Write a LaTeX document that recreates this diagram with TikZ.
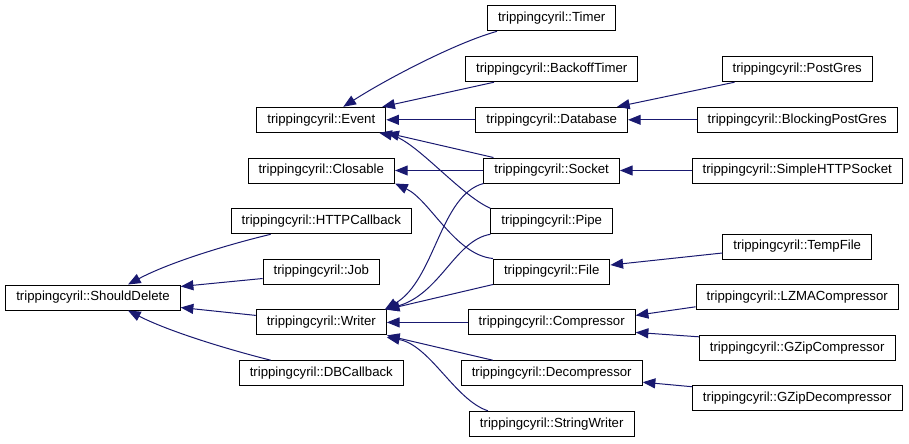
\documentclass[tikz,border=0pt]{standalone}
\usepackage{fontspec}
\setmainfont{Liberation Sans}
\usetikzlibrary{arrows.meta,calc}
\definecolor{dxEdge}{HTML}{191970}
\tikzset{
  clsbox/.style  = {draw=black, line width=0.75pt, fill=white, inner xsep=7.9pt,
                    inner ysep=0pt, minimum height=18.75pt,
                    font=\fontsize{9.9}{12}\selectfont},
  inherit/.style = {-{Triangle[length=9.5pt,width=7.5pt]}, line width=0.75pt,
                    draw=dxEdge},
}
\begin{document}
\begin{tikzpicture}[x=0.75pt, y=-0.75pt]
  \useasboundingbox (0,0) rectangle (909,443);

  % base and second column
  \node[clsbox] (shoulddel) at (93,297.5)   {trippingcyril::ShouldDelete};
  \node[clsbox] (event)     at (321.3,119.8) {trippingcyril::Event};
  \node[clsbox] (closable)  at (321.3,170.5) {trippingcyril::Closable};
  \node[clsbox] (httpcb)    at (321.3,221.3) {trippingcyril::HTTPCallback};
  \node[clsbox] (job)       at (321.3,271.5) {trippingcyril::Job};
  \node[clsbox] (writer)    at (321.3,322.4) {trippingcyril::Writer};
  \node[clsbox] (dbcb)      at (321.3,373.2) {trippingcyril::DBCallback};

  % third column
  \node[clsbox] (timer)     at (551.7,18.3)  {trippingcyril::Timer};
  \node[clsbox] (backoff)   at (551.7,69.2)  {trippingcyril::BackoffTimer};
  \node[clsbox] (database)  at (551.7,119.8) {trippingcyril::Database};
  \node[clsbox] (socket)    at (551.7,170.5) {trippingcyril::Socket};
  \node[clsbox] (pipe)      at (551.7,221.3) {trippingcyril::Pipe};
  \node[clsbox] (file)      at (551.7,271.5) {trippingcyril::File};
  \node[clsbox] (compr)     at (551.7,322.4) {trippingcyril::Compressor};
  \node[clsbox] (decompr)   at (551.7,373.2) {trippingcyril::Decompressor};
  \node[clsbox] (strwriter) at (551.7,423.8) {trippingcyril::StringWriter};

  % fourth column
  \node[clsbox] (postgres)  at (797.2,69.2)  {trippingcyril::PostGres};
  \node[clsbox] (blockpg)   at (797.2,119.8) {trippingcyril::BlockingPostGres};
  \node[clsbox] (simplehttp) at (797.2,170.5) {trippingcyril::SimpleHTTPSocket};
  \node[clsbox] (tempfile)  at (797.2,246.5) {trippingcyril::TempFile};
  \node[clsbox] (lzma)      at (797.2,296.8) {trippingcyril::LZMACompressor};
  \node[clsbox] (gzipc)     at (797.2,347.8) {trippingcyril::GZipCompressor};
  \node[clsbox] (gzipd)     at (797.2,398.3) {trippingcyril::GZipDecompressor};

  % ShouldDelete
  \draw[inherit] ($(httpcb.south west)+(40,0)$)
        .. controls (230,244) and (170,262) .. ($(shoulddel.north)+(35,0)$);
  \draw[inherit] ($(job.west)+(0,7)$) -- ($(shoulddel.east)+(0,-11)$);
  \draw[inherit] ($(writer.west)+(0,-7)$) -- ($(shoulddel.east)+(0,10)$);
  \draw[inherit] ($(dbcb.north west)+(32,0)$)
        .. controls (230,350) and (170,332) .. ($(shoulddel.south)+(35,0)$);

  % Event
  \draw[inherit] ($(timer.south west)+(10,0)$)
        .. controls (455,43) and (385,80) .. ($(event.north)+(22,0)$);
  \draw[inherit] ($(backoff.south west)+(29,0)$) -- ($(event.north east)+(-4,0)$);
  \draw[inherit] (database.west) -- (event.east);
  \draw[inherit] ($(socket.north west)+(10,0)$) -- (event.south east);
  \draw[inherit] (pipe.north west)
        .. controls (460,195) and (415,140) .. ($(event.south east)+(-7,0)$);

  % Closable
  \draw[inherit] (socket.west) -- (closable.east);
  \draw[inherit] (file.north west)
        .. controls (455,255) and (430,200) .. (closable.south east);

  % Writer
  \draw[inherit] (socket.south west)
        .. controls (440,195) and (435,280) .. ($(writer.north east)+(-2,0)$);
  \draw[inherit] (pipe.south west)
        .. controls (455,240) and (440,295) .. ($(writer.north east)+(-2,0)$);
  \draw[inherit] (file.south west) -- (writer.north east);
  \draw[inherit] (compr.west) -- (writer.east);
  \draw[inherit] ($(decompr.north west)+(32,0)$) -- (writer.south east);
  \draw[inherit] ($(strwriter.north west)+(19,0)$)
        .. controls (455,400) and (430,345) .. ($(writer.south east)+(0,2)$);

  % right column
  \draw[inherit] ($(postgres.south west)+(13,0)$) -- ($(database.north east)+(-11,0)$);
  \draw[inherit] (blockpg.west) -- (database.east);
  \draw[inherit] (simplehttp.west) -- (socket.east);
  \draw[inherit] ($(tempfile.west)+(0,6.5)$) -- ($(file.east)+(0,-6.5)$);
  \draw[inherit] ($(lzma.west)+(0,10)$) -- ($(compr.east)+(0,-7)$);
  \draw[inherit] ($(gzipc.west)+(0,-11)$) -- ($(compr.east)+(0,10)$);
  \draw[inherit] ($(gzipd.west)+(0,-11.6)$) -- ($(decompr.east)+(0,9)$);
\end{tikzpicture}
\end{document}
